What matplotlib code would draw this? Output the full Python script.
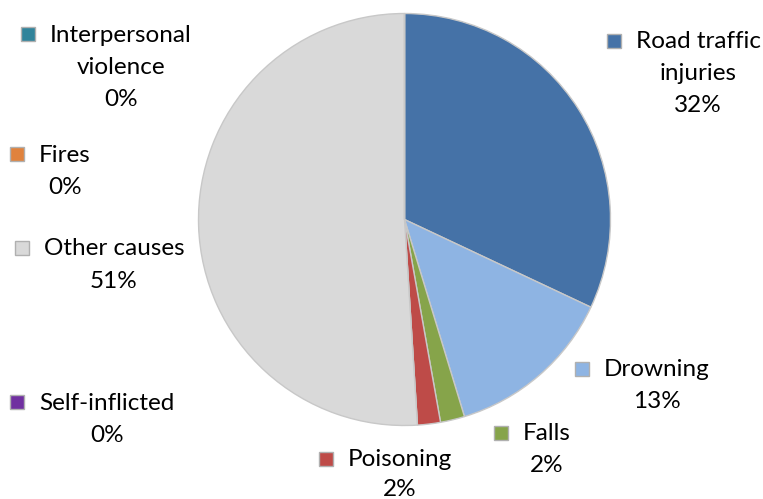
import matplotlib
matplotlib.use("Agg")
import matplotlib.pyplot as plt

# data, clockwise from 12 o'clock
causes = ["Road traffic\ninjuries", "Drowning", "Falls", "Poisoning",
          "Self-inflicted", "Other causes", "Fires", "Interpersonal\nviolence"]
shares = [32.0, 13.3, 1.9, 1.8, 0.0, 51.0, 0.0, 0.0]
colors = ["#4572A7", "#8EB4E3", "#86A44A", "#BE4B48",
          "#7030A0", "#D9D9D9", "#E0823D", "#31849B"]

# label anchor (text centre x, first-line centre y) in pixels from top-left
label_pos = [(698, 42), (657, 370), (547, 434), (400, 460),
             (107, 403), (114, 249), (65, 155), (121, 35)]

W, H = 763, 499
fig = plt.figure(figsize=(W / 100, H / 100), dpi=100)
plt.rcParams["font.family"] = ["Lato", "DejaVu Sans"]

cx, cy, r = 404.5, 219.5, 206
ax = fig.add_axes([(cx - r) / W, (H - cy - r) / H, 2 * r / W, 2 * r / H])
ax.pie(shares, colors=colors, startangle=90, counterclock=False,
       wedgeprops=dict(edgecolor="#C8C8C8", linewidth=1))
ax.set_xlim(-1, 1)
ax.set_ylim(-1, 1)
ax.set_aspect("equal")
ax.axis("off")


def fpos(x, y):
    return x / W, 1 - y / H


fig.canvas.draw()
renderer = fig.canvas.get_renderer()
line_h = 32
for name, val, col, (lx, ly) in zip(causes, shares, colors, label_pos):
    lines = name.split("\n") + ["%d%%" % round(val)]
    step = 29 if ly > 450 else line_h
    first = None
    for i, s in enumerate(lines):
        t = fig.text(*fpos(lx, ly + i * step), s, ha="center", va="center",
                     fontsize=17.5, color="black")
        if i == 0:
            first = t
    bb = first.get_window_extent(renderer)
    mx = bb.x0 - 22
    fig.add_artist(plt.Line2D([mx / W], [1 - (ly - 1) / H], marker="s",
                              markersize=9.5, color=col, markeredgecolor="#B0B0B0",
                              markeredgewidth=1, transform=fig.transFigure))

fig.savefig("out.png", dpi=100)
